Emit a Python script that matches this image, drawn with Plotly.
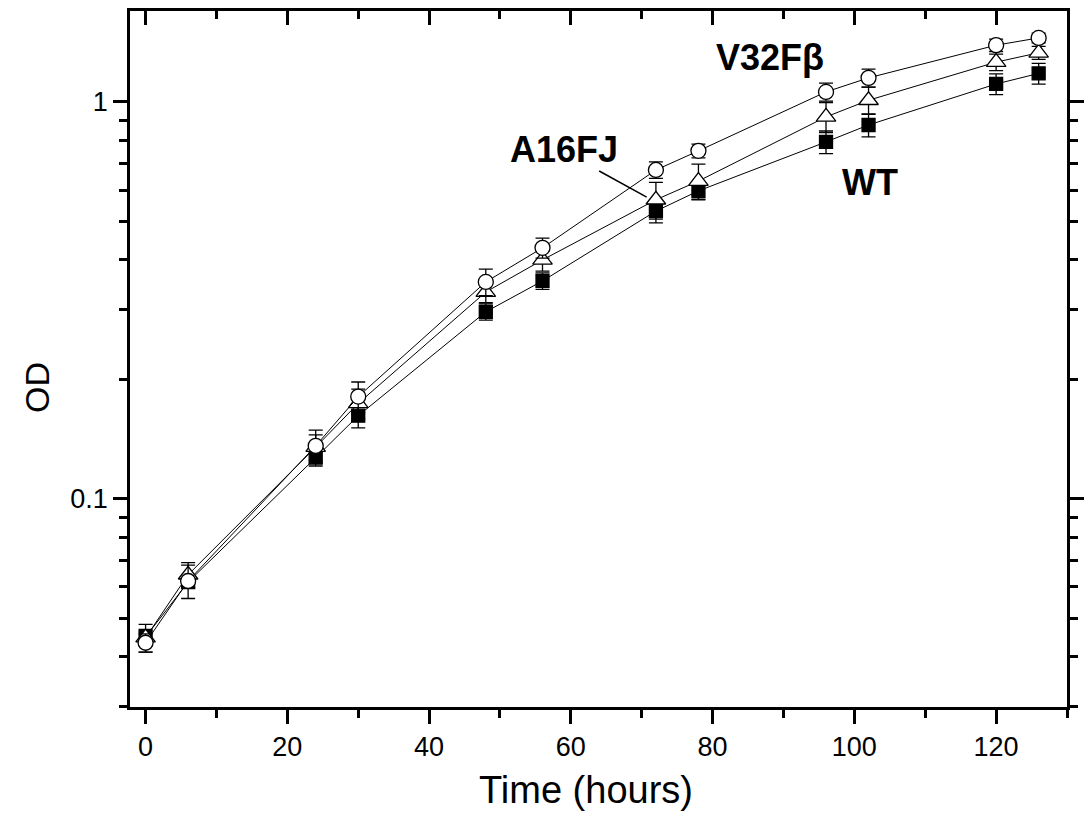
import plotly.graph_objects as go
import math

time_h = [0, 6, 24, 30, 48, 56, 72, 78, 96, 102, 120, 126]

wt_od = [0.0449, 0.0617, 0.127, 0.162, 0.296, 0.354, 0.531, 0.597, 0.793, 0.875, 1.11, 1.18]
wt_err = [0.002, 0.002, 0.006, 0.011, 0.014, 0.017, 0.035, 0.028, 0.052, 0.058, 0.067, 0.071]

a16_od = [0.0447, 0.0644, 0.135, 0.174, 0.332, 0.400, 0.567, 0.632, 0.917, 1.01, 1.26, 1.33]
a16_err = [0.0036, 0.0047, 0.010, 0.015, 0.020, 0.025, 0.060, 0.065, 0.080, 0.080, 0.060, 0.050]

v32_od = [0.0434, 0.0621, 0.136, 0.181, 0.352, 0.429, 0.674, 0.753, 1.06, 1.15, 1.39, 1.45]
v32_err = [0.0023, 0.006, 0.013, 0.016, 0.027, 0.025, 0.032, 0.030, 0.055, 0.060, 0.050, 0.040]

x_range = [-2.2, 130]
y_range_vals = [0.0299, 1.695]
x_major = [0, 20, 40, 60, 80, 100, 120]
x_minor = [10, 30, 50, 70, 90, 110, 130]
y_major = [0.1, 1]
y_minor = [0.03, 0.04, 0.05, 0.06, 0.07, 0.08, 0.09, 0.2, 0.3, 0.4, 0.5, 0.6, 0.7, 0.8, 0.9]

y_range = [math.log10(y_range_vals[0]), math.log10(y_range_vals[1])]

FONT = "Liberation Sans, Arial, sans-serif"
W, H = 1092, 822
ML, MR, MT, MB = 130, 16, 11, 115

fig = go.Figure()

def add_series(y, err, symbol, fill, size, name):
    fig.add_trace(go.Scatter(
        x=time_h, y=y, name=name, mode="lines+markers",
        line=dict(color="black", width=1),
        marker=dict(symbol=symbol, size=size, color=fill,
                    line=dict(color="black", width=1.3)),
        error_y=dict(type="data", array=err, visible=True,
                     color="black", thickness=1.3, width=7),
        showlegend=False,
    ))

add_series(wt_od, wt_err, "square", "black", 13, "WT")
add_series(a16_od, a16_err, "triangle-up", "white", 17, "A16FJ")
add_series(v32_od, v32_err, "circle", "white", 15, "V32Fβ")

axis_common = dict(showline=True, linecolor="black", linewidth=2.5,
                   showgrid=False, zeroline=False, tickcolor="black",
                   tickwidth=2.5)

fig.update_layout(
    width=W, height=H,
    margin=dict(l=ML, r=MR, t=MT, b=MB),
    paper_bgcolor="white", plot_bgcolor="white",
    font=dict(family=FONT, color="black"),
    xaxis=dict(**axis_common, range=x_range, ticks="outside", ticklen=14,
               tickvals=x_major, ticktext=[str(v) for v in x_major],
               tickfont=dict(size=27, family=FONT),
               minor=dict(tickvals=x_minor, ticklen=8, tickwidth=2.5,
                          tickcolor="black", ticks="outside")),
    xaxis2=dict(**axis_common, range=x_range, overlaying="x", side="top",
                ticks="inside", ticklen=14, tickvals=x_major,
                showticklabels=False,
                minor=dict(tickvals=x_minor, ticklen=8, tickwidth=2.5,
                           tickcolor="black", ticks="inside")),
    yaxis=dict(**axis_common, type="log", range=y_range, ticks="outside",
               ticklen=14, tickvals=y_major, ticktext=["0.1", "1"],
               tickfont=dict(size=27, family=FONT),
               minor=dict(tickvals=y_minor, ticklen=8, tickwidth=2.5,
                          tickcolor="black", ticks="outside")),
    yaxis2=dict(**axis_common, type="log", range=y_range, overlaying="y",
                side="right", ticks="outside", ticklen=14, tickvals=y_major,
                showticklabels=False,
                minor=dict(tickvals=y_minor, ticklen=8, tickwidth=2.5,
                           tickcolor="black", ticks="outside")),
)

# invisible trace so the mirrored axes are rendered
fig.add_trace(go.Scatter(x=[None], y=[None], xaxis="x2", yaxis="y2",
                         showlegend=False, hoverinfo="skip"))

# axis titles (placed like the original, slightly off-centre)
fig.add_annotation(xref="paper", yref="paper",
                   x=(590 - ML) / (W - ML - MR), y=-(790 - (H - MB)) / (H - MT - MB),
                   xanchor="center", yanchor="middle",
                   text="Time (hours)", showarrow=False,
                   font=dict(family=FONT, size=38, color="black"))
fig.add_annotation(xref="paper", yref="paper",
                   x=-(ML - 36) / (W - ML - MR), y=((H - MB) - 387) / (H - MT - MB),
                   xanchor="center", yanchor="middle",
                   text="OD", textangle=-90, showarrow=False,
                   font=dict(family=FONT, size=34, color="black"))

label_font = dict(family=FONT, size=36, color="black")
fig.add_annotation(x=88.1, y=math.log10(1.298), text="<b>V32Fβ</b>",
                   showarrow=False, font=label_font)
fig.add_annotation(x=59.1, y=math.log10(0.761), text="<b>A16FJ</b>",
                   showarrow=False, font=label_font)
fig.add_annotation(x=102.2, y=math.log10(0.625), text="<b>WT</b>",
                   showarrow=False, font=label_font)
# pointer line from the A16FJ label to its curve (shape coords are data values)
fig.add_shape(type="line", xref="x", yref="y",
              x0=64.0, y0=0.670, x1=70.7, y1=0.576,
              line=dict(color="black", width=1.5))

fig.write_html("out.html")
